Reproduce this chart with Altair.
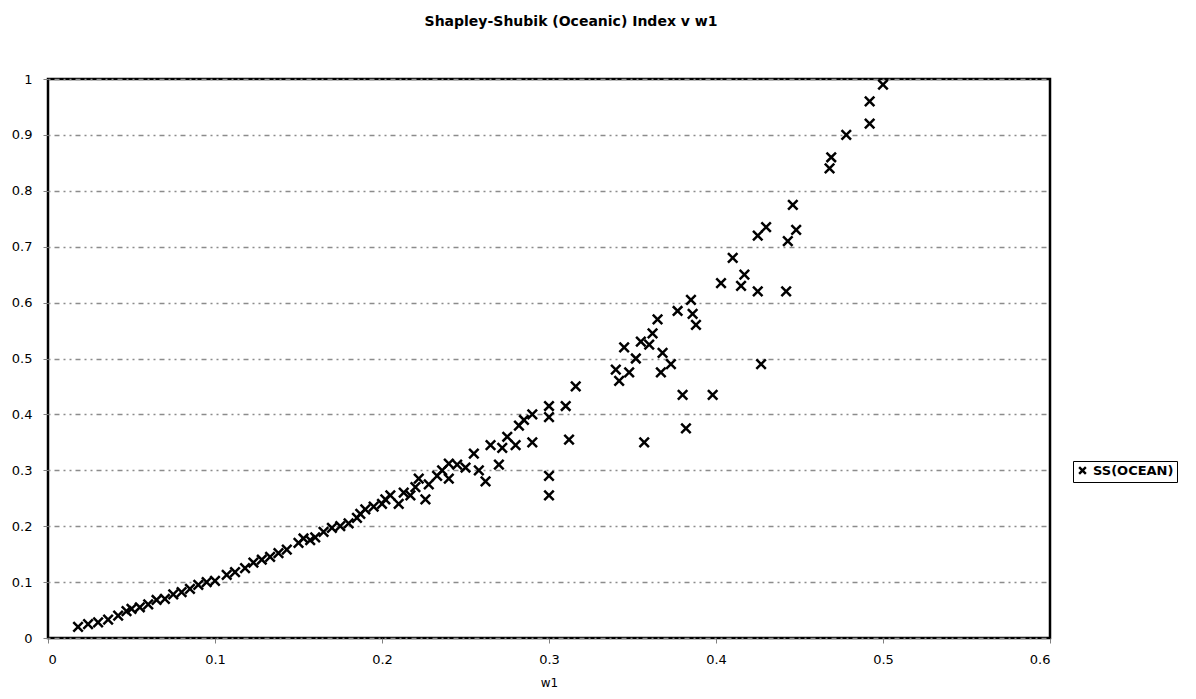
import altair as alt
import pandas as pd

w1 = [0.018, 0.024, 0.030, 0.036, 0.042, 0.047, 0.050, 0.055, 0.060, 0.065,
      0.070, 0.075, 0.080, 0.085, 0.090, 0.095, 0.100, 0.107, 0.112, 0.118,
      0.123, 0.128, 0.133, 0.138, 0.143, 0.150, 0.153, 0.157, 0.160, 0.165,
      0.170, 0.175, 0.180, 0.185, 0.187, 0.190, 0.195, 0.200, 0.202, 0.205,
      0.210, 0.213, 0.217, 0.220, 0.222, 0.226, 0.228, 0.233, 0.236, 0.240,
      0.240, 0.245, 0.250, 0.255, 0.258, 0.262, 0.265, 0.270, 0.272, 0.275,
      0.280, 0.282, 0.285, 0.290, 0.290, 0.300, 0.300, 0.300, 0.300, 0.310,
      0.312, 0.316,
      0.340, 0.342, 0.345, 0.348, 0.352, 0.355, 0.357, 0.360, 0.362, 0.365,
      0.367, 0.368, 0.373, 0.377, 0.380, 0.382, 0.385, 0.386, 0.388, 0.398,
      0.403, 0.410, 0.415, 0.417, 0.425, 0.425, 0.427, 0.430, 0.442, 0.443,
      0.446, 0.448, 0.468, 0.469, 0.478, 0.492, 0.492, 0.500]
ss = [0.020, 0.025, 0.028, 0.033, 0.040, 0.048, 0.052, 0.055, 0.060, 0.068,
      0.070, 0.078, 0.082, 0.088, 0.095, 0.100, 0.102, 0.113, 0.118, 0.125,
      0.135, 0.140, 0.145, 0.152, 0.158, 0.170, 0.178, 0.175, 0.180, 0.190,
      0.197, 0.200, 0.205, 0.215, 0.222, 0.230, 0.235, 0.240, 0.248, 0.255,
      0.240, 0.260, 0.255, 0.270, 0.285, 0.248, 0.275, 0.290, 0.300, 0.285,
      0.312, 0.310, 0.305, 0.330, 0.300, 0.280, 0.345, 0.310, 0.340, 0.360,
      0.345, 0.380, 0.390, 0.350, 0.400, 0.395, 0.415, 0.290, 0.255, 0.415,
      0.355, 0.450,
      0.480, 0.460, 0.520, 0.475, 0.500, 0.530, 0.350, 0.525, 0.545, 0.570,
      0.475, 0.510, 0.490, 0.585, 0.435, 0.375, 0.605, 0.580, 0.560, 0.435,
      0.635, 0.680, 0.630, 0.650, 0.720, 0.620, 0.490, 0.735, 0.620, 0.710,
      0.775, 0.730, 0.840, 0.860, 0.900, 0.920, 0.960, 0.990]
series_name = "SS(OCEAN)"

x_ticks = [0, 0.1, 0.2, 0.3, 0.4, 0.5, 0.6]
y_ticks = [0, 0.1, 0.2, 0.3, 0.4, 0.5, 0.6, 0.7, 0.8, 0.9, 1]

df = pd.DataFrame({"w1": w1, "ss": ss, "series": [series_name] * len(w1)})

X_PATH = "M-1,-1L1,1M1,-1L-1,1"
FONT = "DejaVu Sans"

chart = alt.Chart(df).mark_point(
    shape=X_PATH, filled=False, size=90, strokeWidth=2.5, opacity=1
).encode(
    x=alt.X("w1:Q",
            scale=alt.Scale(domain=[0, 0.6], nice=False, zero=False),
            axis=alt.Axis(values=x_ticks, format=".1~f", title="w1", grid=False,
                          domain=False, tickColor="#808080", tickSize=5,
                          labelPadding=10, labelFontSize=13, labelFont=FONT,
                          labelColor="black", titleFont=FONT, titleFontSize=12,
                          titleFontWeight="normal", titleColor="black",
                          titlePadding=11)),
    y=alt.Y("ss:Q",
            scale=alt.Scale(domain=[0, 1], nice=False),
            axis=alt.Axis(values=y_ticks, format=".1~f", title=None, grid=True,
                          gridColor="#8c8c8c", gridDash=[2, 4, 5, 4, 2, 4],
                          gridWidth=1.5,
                          domain=False, tickColor="#808080", tickSize=5,
                          labelPadding=11, labelFontSize=13, labelFont=FONT,
                          labelColor="black")),
    color=alt.Color("series:N", scale=alt.Scale(range=["#000000"]),
                    legend=alt.Legend(title=None, orient="none",
                                      legendX=1025, legendY=382,
                                      symbolType=X_PATH, symbolSize=45,
                                      symbolStrokeWidth=2.4,
                                      labelFont=FONT, labelFontSize=13,
                                      labelFontWeight="bold",
                                      labelColor="black",
                                      strokeColor="black", padding=3,
                                      fillColor="white")),
).properties(
    width=1002,
    height=559,
    title=alt.TitleParams("Shapley-Shubik (Oceanic) Index v w1",
                          font=FONT, fontSize=14, fontWeight="bold",
                          color="black", anchor="middle", offset=44, dx=22),
    padding={"left": 40, "top": 71, "right": 138, "bottom": 53},
    autosize="none",
).configure_view(
    stroke="black", strokeWidth=2.5
)

chart.save("out.html", embed_options={"renderer": "svg", "actions": False})
